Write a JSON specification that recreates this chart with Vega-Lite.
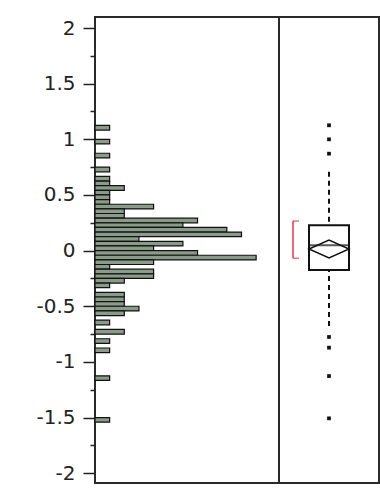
{
  "$schema": "https://vega.github.io/schema/vega-lite/v6.json",
  "padding": {"left": 7, "top": 16, "right": 1, "bottom": 7},
  "background": "white",
  "spacing": 0,
  "bounds": "flush",
  "config": {"view": {"stroke": "#2a2a2a", "strokeWidth": 2}, "concat": {"spacing": 0}},
  "datasets": {
    "hist": [
      {"lo": 1.0833, "hi": 1.125, "count": 1},
      {"lo": 0.9583, "hi": 1.0, "count": 1},
      {"lo": 0.8333, "hi": 0.875, "count": 1},
      {"lo": 0.7083, "hi": 0.75, "count": 1},
      {"lo": 0.625, "hi": 0.6667, "count": 1},
      {"lo": 0.5833, "hi": 0.625, "count": 1},
      {"lo": 0.5417, "hi": 0.5833, "count": 2},
      {"lo": 0.5, "hi": 0.5417, "count": 1},
      {"lo": 0.4583, "hi": 0.5, "count": 1},
      {"lo": 0.4167, "hi": 0.4583, "count": 1},
      {"lo": 0.375, "hi": 0.4167, "count": 4},
      {"lo": 0.3333, "hi": 0.375, "count": 2},
      {"lo": 0.2917, "hi": 0.3333, "count": 2},
      {"lo": 0.25, "hi": 0.2917, "count": 7},
      {"lo": 0.2083, "hi": 0.25, "count": 6},
      {"lo": 0.1667, "hi": 0.2083, "count": 9},
      {"lo": 0.125, "hi": 0.1667, "count": 10},
      {"lo": 0.0833, "hi": 0.125, "count": 3},
      {"lo": 0.0417, "hi": 0.0833, "count": 6},
      {"lo": 0.0, "hi": 0.0417, "count": 4},
      {"lo": -0.0417, "hi": 0.0, "count": 7},
      {"lo": -0.0833, "hi": -0.0417, "count": 11},
      {"lo": -0.125, "hi": -0.0833, "count": 4},
      {"lo": -0.1667, "hi": -0.125, "count": 1},
      {"lo": -0.2083, "hi": -0.1667, "count": 4},
      {"lo": -0.25, "hi": -0.2083, "count": 4},
      {"lo": -0.2917, "hi": -0.25, "count": 2},
      {"lo": -0.3333, "hi": -0.2917, "count": 1},
      {"lo": -0.4167, "hi": -0.375, "count": 2},
      {"lo": -0.4583, "hi": -0.4167, "count": 2},
      {"lo": -0.5, "hi": -0.4583, "count": 2},
      {"lo": -0.5417, "hi": -0.5, "count": 3},
      {"lo": -0.5833, "hi": -0.5417, "count": 2},
      {"lo": -0.6667, "hi": -0.625, "count": 1},
      {"lo": -0.75, "hi": -0.7083, "count": 2},
      {"lo": -0.8333, "hi": -0.7917, "count": 1},
      {"lo": -0.9167, "hi": -0.875, "count": 1},
      {"lo": -1.1667, "hi": -1.125, "count": 1},
      {"lo": -1.5417, "hi": -1.5, "count": 1}
    ],
    "box": [
      {"group": "All", "q1": -0.174, "q3": 0.227, "median": 0.048, "mean": 0.0144, "whiskerLow": -0.677, "whiskerHigh": 0.709, "shortLow": -0.069, "shortHigh": 0.266}
    ],
    "outliers": [
      {"group": "All", "value": 1.126},
      {"group": "All", "value": 1.0},
      {"group": "All", "value": 0.871},
      {"group": "All", "value": -0.776},
      {"group": "All", "value": -0.872},
      {"group": "All", "value": -1.127},
      {"group": "All", "value": -1.507}
    ]
  },
  "hconcat": [
    {
      "width": 184,
      "height": 466,
      "data": {"name": "hist"},
      "mark": {"type": "rect", "fill": "#8b9b89", "stroke": "#111", "strokeWidth": 1.2},
      "encoding": {
        "y": {
          "field": "lo", "type": "quantitative",
          "scale": {"domain": [-2.088, 2.099], "nice": false, "zero": false},
          "axis": {
            "values": [-2, -1.75, -1.5, -1.25, -1, -0.75, -0.5, -0.25, 0, 0.25, 0.5, 0.75, 1, 1.25, 1.5, 1.75, 2],
            "title": null, "domain": false, "grid": false,
            "tickSize": {"condition": {"test": "abs(datum.value % 0.5) > 0.01", "value": 5}, "value": 12},
            "tickColor": "#222", "tickWidth": 1.5,
            "labelExpr": "abs(datum.value % 0.5) < 0.01 ? '' + datum.value : ''",
            "labelFont": "DejaVu Sans", "labelFontSize": 20, "labelColor": "#222",
            "labelPadding": 8, "minExtent": 87, "maxExtent": 87,
            "labelBound": false, "labelOverlap": false, "labelFlush": false
          }
        },
        "y2": {"field": "hi"},
        "x": {"field": "count", "type": "quantitative", "scale": {"domain": [0, 12.56], "nice": false}, "axis": null},
        "x2": {"datum": 0}
      }
    },
    {
      "width": 100,
      "height": 466,
      "encoding": {
        "x": {"field": "group", "type": "nominal", "scale": {"paddingInner": 0, "paddingOuter": 0.75}, "axis": null}
      },
      "layer": [
        {
          "data": {"name": "box"},
          "mark": {"type": "rule", "color": "#111", "strokeWidth": 2, "strokeDash": [5, 4]},
          "encoding": {
            "y": {"field": "whiskerHigh", "type": "quantitative", "scale": {"domain": [-2.088, 2.099], "nice": false, "zero": false}, "axis": null},
            "y2": {"field": "q3"}
          }
        },
        {
          "data": {"name": "box"},
          "mark": {"type": "rule", "color": "#111", "strokeWidth": 2, "strokeDash": [5, 4]},
          "encoding": {
            "y": {"field": "whiskerLow", "type": "quantitative"},
            "y2": {"field": "q1"}
          }
        },
        {
          "data": {"name": "box"},
          "mark": {"type": "bar", "fill": "white", "stroke": "#111", "strokeWidth": 2},
          "encoding": {
            "y": {"field": "q1", "type": "quantitative"},
            "y2": {"field": "q3"}
          }
        },
        {
          "data": {"name": "box"},
          "mark": {"type": "tick", "color": "#111", "size": 40, "thickness": 2},
          "encoding": {
            "y": {"field": "median", "type": "quantitative"}
          }
        },
        {
          "data": {"name": "box"},
          "mark": {"type": "point", "shape": "M-1,0L0,-0.45L1,0L0,0.45Z", "size": 1600, "filled": false, "stroke": "#111", "strokeWidth": 1.5, "opacity": 1},
          "encoding": {
            "y": {"field": "mean", "type": "quantitative"}
          }
        },
        {
          "data": {"name": "box"},
          "mark": {"type": "rule", "color": "#e8344e", "strokeWidth": 1.5, "xOffset": -36},
          "encoding": {
            "y": {"field": "shortLow", "type": "quantitative"},
            "y2": {"field": "shortHigh"}
          }
        },
        {
          "data": {"name": "box"},
          "mark": {"type": "tick", "color": "#e8344e", "size": 6, "thickness": 1.5, "xOffset": -33},
          "encoding": {
            "y": {"field": "shortLow", "type": "quantitative"}
          }
        },
        {
          "data": {"name": "box"},
          "mark": {"type": "tick", "color": "#e8344e", "size": 6, "thickness": 1.5, "xOffset": -33},
          "encoding": {
            "y": {"field": "shortHigh", "type": "quantitative"}
          }
        },
        {
          "data": {"name": "outliers"},
          "mark": {"type": "point", "shape": "square", "filled": true, "size": 14, "color": "#111", "opacity": 1},
          "encoding": {
            "y": {"field": "value", "type": "quantitative"}
          }
        }
      ]
    }
  ]
}
